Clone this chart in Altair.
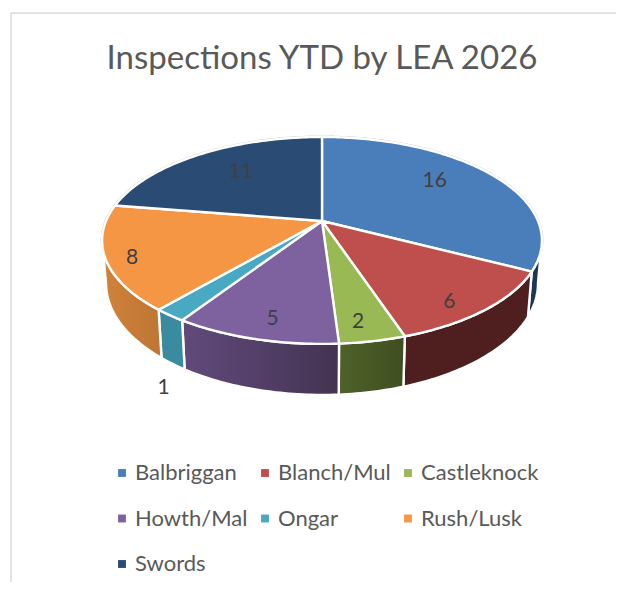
import numpy as np
import altair as alt

TITLE = "Inspections YTD by LEA 2026"
names = ["Balbriggan", "Blanch/Mul", "Castleknock", "Howth/Mal", "Ongar", "Rush/Lusk", "Swords"]
values = [16, 6, 2, 5, 1, 8, 11]
top_colors = ["#4a7ebb", "#be4f4c", "#98b954", "#7e62a0", "#4aa9c2", "#f59644", "#2a4b73"]
wall_start = ["#1c3655", "#4e1f1e", "#4f6229", "#614a7b", "#3a8aa0", "#d0823a", "#1c3655"]
wall_end = ["#1c3655", "#4e1f1e", "#3f4e21", "#443352", "#3a8aa0", "#bd7634", "#1c3655"]
label_r = [0.72, 0.86, 0.85, 0.84, 1.38, 0.89, 0.70]
label_shift = [-7, 3.8, 1.5, -1.4, -12.8, -2, 4]

FONT = "Lato"
W, H, TOP = 608, 514, 60
APEX_X, APEX_Y = 314, 153   # pie apex in plot coordinates
A, B, K = 216, 99.8, 0.188  # tilt / perspective of the disc


def tilt(theta, r=1.0):
    s, c = r * np.sin(np.radians(theta)), r * np.cos(np.radians(theta))
    d = 1 + K * c
    return A * s / d, -B * c / d


def base(x, y):
    return 0.982 * x, 1.078 * (y - 49.7) + 95.0


def ring(points):
    pts = [[float(x), float(y)] for x, y in points]
    pts.append(pts[0])
    return [pts]


def feature(name, points):
    return {"type": "Feature", "properties": {"name": name},
            "geometry": {"type": "Polygon", "coordinates": ring(points)}}


def arc(t0, t1):
    ts = np.linspace(t0, t1, max(2, int(abs(t1 - t0)) + 2))
    return ts


edges = np.cumsum([0] + values) / sum(values) * 360
tops, walls, labels = [], [], []
RIGHT_T, LEFT_T = 100.8, 259.2
for i, n in enumerate(names):
    t0, t1 = edges[i], edges[i + 1]
    xs, ys = tilt(arc(t0, t1))
    tops.append(feature(n, [(0, 0)] + list(zip(xs, ys))))
    a, b = max(t0, RIGHT_T), min(t1, LEFT_T)
    if a < b:
        xs, ys = tilt(arc(a, b))
        bx, by = base(xs, ys)
        walls.append((i, feature(n, list(zip(xs, ys)) + list(zip(bx[::-1], by[::-1])))))
    lx, ly = tilt((t0 + t1) / 2 + label_shift[i], label_r[i])
    labels.append({"px": APEX_X + float(lx), "py": APEX_Y + float(ly), "v": values[i]})

disc_x, disc_y = tilt(arc(0, 360))


def geo(data, **mark):
    return alt.Chart(alt.Data(values=data)).mark_geoshape(**mark).project(
        type="identity", scale=1, translate=[APEX_X, APEX_Y])


outline = geo([feature("disc", list(zip(disc_x, disc_y)))], fill="#ffffff", stroke="#cfcfcf", strokeWidth=3)
wall_layers = [
    geo([f], stroke="#ffffff", strokeWidth=2.4, strokeJoin="round",
        fill=alt.Gradient(gradient="linear", x1=0, y1=0, x2=1, y2=0,
                          stops=[alt.GradientStop(offset=0, color=wall_start[i]),
                                 alt.GradientStop(offset=1, color=wall_end[i])]))
    for i, f in walls
]
faces = geo(tops, stroke="#ffffff", strokeWidth=2.4, strokeJoin="round").encode(
    color=alt.Color("properties.name:N",
                    scale=alt.Scale(domain=names, range=top_colors),
                    sort=names,
                    legend=alt.Legend(title=None, orient="none", legendX=103, legendY=394,
                                      columns=3, direction="horizontal", gridAlign="all",
                                      symbolType="square",
                                      symbolSize=62, symbolStrokeWidth=0, symbolOffset=0,
                                      labelFont=FONT, labelFontSize=22, labelColor="#595959",
                                      labelLimit=200, labelOffset=2,
                                      rowPadding=23.5, columnPadding=1)),
)

label_marks = alt.Chart(alt.Data(values=labels)).mark_text(
    font=FONT, fontSize=21, color="#404040", dy=1.5).encode(
    x=alt.X("px:Q", scale=None, axis=None),
    y=alt.Y("py:Q", scale=None, axis=None),
    text="v:N",
)

frame_left = alt.Chart(alt.Data(values=[{"a": 0}])).mark_rule(color="#d9d9d9", strokeWidth=1.5).encode(
    x=alt.value(3), y=alt.value(-55), y2=alt.value(H))
frame_top = alt.Chart(alt.Data(values=[{"a": 0}])).mark_rule(color="#d9d9d9", strokeWidth=1.5).encode(
    x=alt.value(3), x2=alt.value(W), y=alt.value(-55))

chart = alt.layer(frame_left, frame_top, outline, *wall_layers, faces, label_marks).properties(
    width=W, height=H,
    title=alt.TitleParams(TITLE, font=FONT, fontSize=33, fontWeight="normal", color="#595959",
                          anchor="middle", dx=10, offset=-64),
    padding={"left": 0, "top": TOP, "right": 0, "bottom": 0},
    autosize=alt.AutoSizeParams(type="none"),
    background="#ffffff",
).configure_view(stroke=None)

chart.save("out.html", embed_options={"renderer": "svg", "actions": False})
